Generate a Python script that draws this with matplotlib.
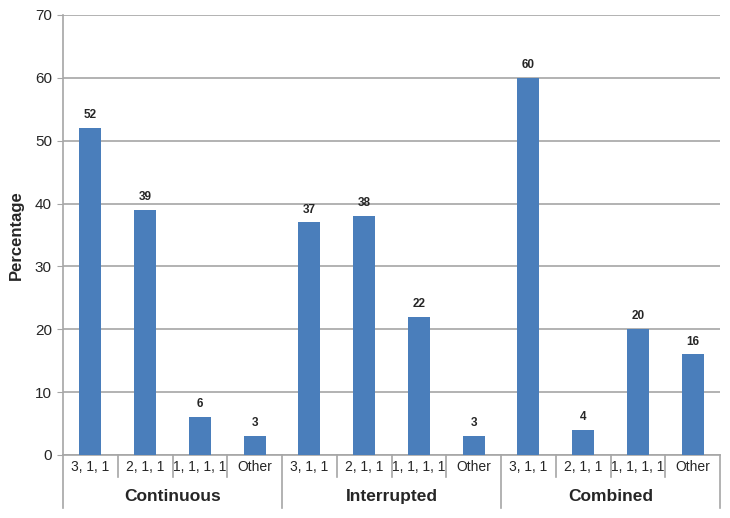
import numpy as np
import matplotlib
matplotlib.use("Agg")
import matplotlib.pyplot as plt

plt.rcParams['font.family'] = ['Liberation Sans', 'DejaVu Sans']

groups = ["Continuous", "Interrupted", "Combined"]
sub_labels = ["3, 1, 1", "2, 1, 1", "1, 1, 1, 1", "Other"]
continuous = [52, 39, 6, 3]
interrupted = [37, 38, 22, 3]
combined = [60, 4, 20, 16]

values = continuous + interrupted + combined
labels = sub_labels * len(groups)
n_sub = len(sub_labels)

bar_color = "#4a7ebb"
line_color = "#a6a6a6"
text_color = "#262626"

fig = plt.figure(figsize=(7.3, 5.18), dpi=100)
ax = fig.add_axes([63 / 730, 1 - 455 / 518, 657 / 730, 440 / 518])

x = np.arange(len(values))
bars = ax.bar(x, values, width=0.4, color=bar_color, zorder=3)
for b, v in zip(bars, values):
    ax.text(b.get_x() + b.get_width() / 2, v + 1.1, str(v), ha="center", va="bottom",
            fontsize=8.5, fontweight="bold", color=text_color)

ax.set_xlim(-0.5, len(values) - 0.5)
ax.set_ylim(0, 70)
ax.set_yticks(range(0, 71, 10))
ax.yaxis.grid(True, color=line_color, linewidth=1.2, zorder=0)
ax.tick_params(axis="y", length=4, color=line_color, labelsize=11, labelcolor=text_color, pad=4)
ax.set_xticks([])
for s in ["top", "right"]:
    ax.spines[s].set_visible(False)
ax.spines["left"].set_color(line_color)
ax.spines["bottom"].set_color(line_color)
ax.spines["left"].set_linewidth(1.2)
ax.spines["bottom"].set_linewidth(1.2)

ax.set_ylabel("Percentage", fontsize=12, fontweight="bold", color=text_color, labelpad=8)

# category labels and separators below the axis
trans = ax.get_xaxis_transform()
for i, lab in enumerate(labels):
    ax.text(i, -0.027, lab, transform=trans, ha="center", va="center",
            fontsize=10, color=text_color)
for i in range(len(values) + 1):
    bottom = -0.12 if i % n_sub == 0 else -0.05
    ax.plot([i - 0.5, i - 0.5], [0, bottom], transform=trans, color=line_color,
            linewidth=1.2, clip_on=False)
for g, name in enumerate(groups):
    ax.text(g * n_sub + (n_sub - 1) / 2, -0.095, name, transform=trans, ha="center",
            va="center", fontsize=12.5, fontweight="bold", color=text_color)

fig.savefig("out.png", dpi=100)
